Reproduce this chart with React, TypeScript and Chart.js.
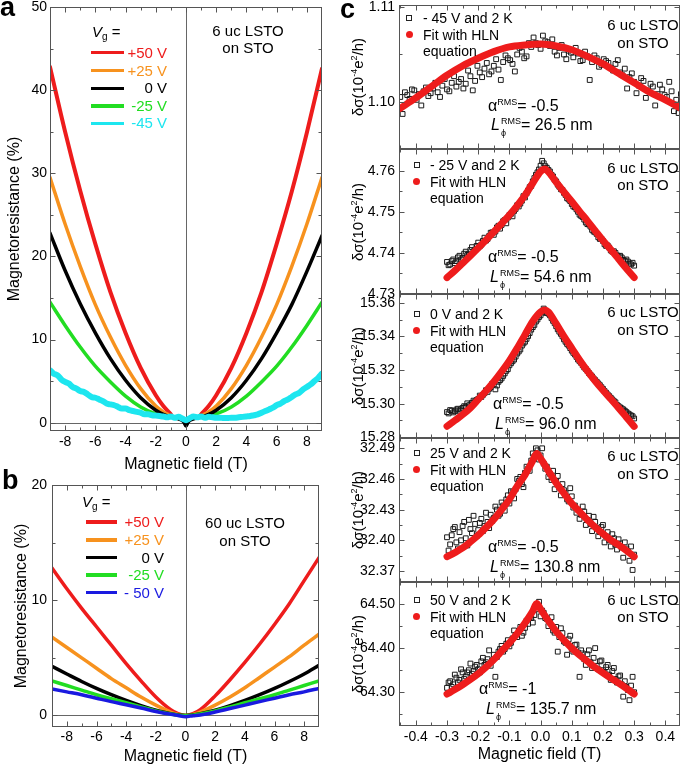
import React, { useEffect, useRef } from "react";
import { Chart, registerables } from "chart.js";

Chart.register(...registerables);

const FONT = '"Liberation Sans", Arial, Helvetica, sans-serif';

// ---------------- Panel a (6 uc LSTO on STO) ----------------
const aLabels = ["+50 V", "+25 V", "0 V", "-25 V", "-45 V"];
const aColors = ["#ee1c1c", "#f7921e", "#000000", "#22dd22", "#1de6ef"];
const aX50 = [-9, -8, -7, -6, -5, -4, -3, -2, -1.5, -1, 0, 1, 1.5, 2, 3, 4, 5, 6, 7, 8, 9];
const aY50 = [42.8, 35.0, 27.9, 21.5, 15.7, 10.8, 6.6, 3.3, 2.0, 1.0, null, 1.0, 2.0, 3.3, 6.6, 10.8, 15.7, 21.5, 27.8, 34.9, 42.6];
const aX25 = [-9, -8, -7, -6, -5, -4, -3, -2, -1.5, -1.2, 0, 1.2, 1.5, 2, 3, 4, 5, 6, 7, 8, 9];
const aY25 = [29.5, 23.9, 18.8, 14.2, 10.3, 6.9, 4.1, 2.0, 1.3, 1.0, null, 1.0, 1.3, 2.0, 4.1, 6.9, 10.3, 14.2, 18.8, 23.9, 29.5];
const aX0 = [-9, -8, -7, -6, -5, -4, -3, -2, -1.5, -1, -0.5, -0.15, 0, 0.15, 0.5, 1, 1.5, 2, 3, 4, 5, 6, 7, 8, 9];
const aY0 = [22.8, 18.3, 14.3, 10.8, 7.7, 5.1, 3.0, 1.5, 1.0, 0.7, 0.45, 0.1, -0.4, 0.1, 0.45, 0.7, 1.0, 1.5, 3.0, 5.1, 7.7, 10.8, 14.2, 18.2, 22.5];
const aXm25 = [-9, -8, -7, -6, -5, -4, -3, -2, -1.5, 0, 1.5, 2, 3, 4, 5, 6, 7, 8, 9];
const aYm25 = [14.5, 11.7, 9.1, 6.8, 4.9, 3.2, 1.9, 1.05, 0.8, null, 0.8, 1.05, 1.9, 3.2, 4.9, 6.8, 9.1, 11.7, 14.5];
const aXm45 = [
  -9, -8.75, -8.5, -8.25, -8, -7.75, -7.5, -7.25, -7, -6.75, -6.5, -6.25, -6, -5.75, -5.5, -5.25, -5, -4.75, -4.5,
  -4.25, -4, -3.75, -3.5, -3.25, -3, -2.75, -2.5, -2.25, -2, -1.75, -1.5, -1.25, -1, -0.75, -0.5, -0.25, 0,
  0.25, 0.5, 0.75, 1, 1.25, 1.5, 1.75, 2, 2.25, 2.5, 2.75, 3, 3.25, 3.5, 3.75, 4, 4.25, 4.5, 4.75, 5, 5.25,
  5.5, 5.75, 6, 6.25, 6.5, 6.75, 7, 7.25, 7.5, 7.75, 8, 8.25, 8.5, 8.75, 9,
];
const aYm45 = [
  6.3, 5.9, 5.7, 5.2, 4.9, 4.7, 4.3, 4.1, 3.8, 3.7, 3.4, 3.1, 3.0, 2.8, 2.6, 2.3, 2.2, 2.1, 1.9,
  1.7, 1.7, 1.5, 1.4, 1.3, 1.2, 1.0, 1.0, 0.9, 0.85, 0.8, 0.75, 0.65, 0.75, 0.6, 0.7, 0.5, 0.3,
  0.55, 0.75, 0.65, 0.75, 0.6, 0.7, 0.65, 0.6, 0.6, 0.55, 0.55, 0.6, 0.6, 0.65, 0.7, 0.75, 0.8, 0.9, 1.0, 1.2, 1.4,
  1.6, 1.8, 2.1, 2.3, 2.6, 2.8, 3.1, 3.4, 3.6, 4.0, 4.3, 4.6, 5.0, 5.4, 5.9,
];
const abXTicks = [-8, -6, -4, -2, 0, 2, 4, 6, 8];
const abXMinor = [-9, -7, -5, -3, -1, 1, 3, 5, 7, 9];
const aYTicks = [0, 10, 20, 30, 40, 50];
const aYMinor = [5, 15, 25, 35, 45];

// ---------------- Panel b (60 uc LSTO on STO) ----------------
const bLabels = ["+50 V", "+25 V", "0 V", "-25 V", "- 50 V"];
const bColors = ["#ee1c1c", "#f7921e", "#000000", "#22dd22", "#1a1ae0"];
const bX = [-9, -8, -7, -6, -5, -4, -3, -2, -1, -0.5, 0, 0.5, 1, 2, 3, 4, 5, 6, 7, 8, 9];
const bY50 = [12.8, 11.0, 9.3, 7.7, 6.1, 4.5, 3.0, 1.6, 0.5, 0.15, 0, 0.15, 0.5, 1.7, 3.1, 4.6, 6.2, 7.9, 9.7, 11.7, 13.7];
const bY25 = [6.8, 5.9, 5.0, 4.1, 3.2, 2.4, 1.6, 0.9, 0.3, 0.08, 0, 0.08, 0.3, 0.9, 1.6, 2.4, 3.3, 4.2, 5.1, 6.1, 7.05];
const bY0 = [4.26, 3.6, 2.95, 2.35, 1.8, 1.3, 0.85, 0.45, 0.15, 0.04, 0, 0.04, 0.15, 0.45, 0.85, 1.3, 1.8, 2.35, 2.95, 3.6, 4.35];
const bYm25 = [3.0, 2.6, 2.2, 1.8, 1.45, 1.1, 0.75, 0.4, 0.12, 0.03, 0, 0.03, 0.12, 0.4, 0.75, 1.1, 1.45, 1.8, 2.2, 2.6, 3.0];
const bYm50 = [2.3, 2.05, 1.8, 1.5, 1.2, 0.93, 0.65, 0.35, 0.1, 0, -0.1, -0.02, 0.05, 0.3, 0.6, 0.9, 1.2, 1.5, 1.8, 2.05, 2.35];
const bYTicks = [0, 10, 20];
const bYMinor = [5, 15];

// ---------------- Panel c (HLN fits) ----------------
const cConditions = ["- 45 V and 2 K", "- 25 V and 2 K", "0 V and 2 K", "25 V and 2 K", "50 V and 2 K"];
const cAlpha = ["-0.5", "-0.5", "-0.5", "-0.5", "-1"];
const cLphi = ["26.5", "54.6", "96.0", "130.8", "135.7"];
const cXTicks = [-0.4, -0.3, -0.2, -0.1, 0, 0.1, 0.2, 0.3, 0.4];
const cXMinor = [-0.45, -0.35, -0.25, -0.15, -0.05, 0.05, 0.15, 0.25, 0.35, 0.45];

const c1YTicks = [1.1, 1.11];
const c1YMinor = [1.095, 1.105];
const c2YTicks = [4.73, 4.74, 4.75, 4.76];
const c2YMinor = [4.735, 4.745, 4.755];
const c3YTicks = [15.28, 15.3, 15.32, 15.34, 15.36];
const c3YMinor = [15.29, 15.31, 15.33, 15.35];
const c4YTicks = [32.37, 32.4, 32.43, 32.46, 32.49];
const c4YMinor = [32.385, 32.415, 32.445, 32.475];
const c5YTicks = [64.3, 64.4, 64.5];
const c5YMinor = [64.25, 64.35, 64.45];

const c1FitX = [-0.45, -0.4, -0.35, -0.3, -0.25, -0.2, -0.15, -0.1, -0.05, 0, 0.05, 0.1, 0.15, 0.2, 0.25, 0.3, 0.35, 0.4, 0.45];
const c1FitY = [1.0993, 1.1004, 1.1016, 1.1028, 1.1038, 1.1046, 1.1053, 1.1058, 1.106, 1.1061, 1.1059, 1.1055, 1.1048, 1.104, 1.103, 1.102, 1.101, 1.1002, 1.0993];
const fitXPeakRight = [-0.3, -0.275, -0.25, -0.225, -0.2, -0.175, -0.15, -0.125, -0.1, -0.075, -0.05, -0.025, 0, 0.0125, 0.025, 0.05, 0.075, 0.1, 0.125, 0.15, 0.175, 0.2, 0.225, 0.25, 0.275, 0.3];
const fitXPeakLeft = [-0.3, -0.275, -0.25, -0.225, -0.2, -0.175, -0.15, -0.125, -0.1, -0.075, -0.05, -0.025, -0.0125, 0, 0.025, 0.05, 0.075, 0.1, 0.125, 0.15, 0.175, 0.2, 0.225, 0.25, 0.275, 0.3];
const c2FitY = [4.734, 4.7357, 4.7375, 4.7393, 4.7412, 4.7431, 4.7451, 4.7471, 4.7492, 4.7515, 4.754, 4.757, 4.7598, 4.7604, 4.7597, 4.7572, 4.7548, 4.7525, 4.7501, 4.7478, 4.7454, 4.743, 4.7408, 4.7385, 4.7362, 4.734];
const c3FitY = [15.2866, 15.29, 15.2935, 15.2975, 15.3025, 15.3075, 15.313, 15.319, 15.3255, 15.333, 15.341, 15.349, 15.3545, 15.3557, 15.3545, 15.3475, 15.34, 15.333, 15.326, 15.3195, 15.3135, 15.308, 15.3028, 15.2975, 15.292, 15.2865];
const c4FitY = [32.384, 32.388, 32.3925, 32.3985, 32.405, 32.4125, 32.4205, 32.43, 32.44, 32.453, 32.464, 32.478, 32.485, 32.48, 32.468, 32.456, 32.446, 32.436, 32.428, 32.42, 32.413, 32.4065, 32.4005, 32.3955, 32.39, 32.384];
const c5FitY = [64.296, 64.306, 64.317, 64.329, 64.342, 64.357, 64.374, 64.393, 64.412, 64.433, 64.457, 64.484, 64.501, 64.488, 64.462, 64.438, 64.418, 64.4, 64.384, 64.37, 64.356, 64.344, 64.332, 64.321, 64.309, 64.296];

// measured data: two field sweeps, evenly spaced field points
const c1SweepA = [
  1.1005, 1.101, 1.1003, 1.1012, 1.1008, 1.1011, 1.1006, 1.1014, 1.101, 1.1017,
  1.1013, 1.102, 1.1016, 1.1024, 1.1019, 1.1027, 1.1022, 1.1031, 1.1035, 1.1029,
  1.1038, 1.1034, 1.1042, 1.1046, 1.104, 1.105, 1.1053, 1.1048, 1.1058, 1.1062,
  1.1056, 1.1064, 1.1059, 1.1053, 1.1057, 1.105, 1.1054, 1.1047, 1.1051, 1.1044,
  1.1048, 1.1042, 1.1046, 1.1039, 1.1043, 1.1036, 1.104, 1.1031, 1.1035, 1.1026,
  1.1021, 1.1017, 1.1022, 1.1012, 1.1016, 1.1008, 1.1013, 1.1005, 1.1011, 1.1002,
  1.1008,
];
const c1SweepB = [
  1.0987, 1.1007, 1.1013, 1.1002, 1.0996, 1.1015, 1.1009, 1.102, 1.1005, 1.1024,
  1.1011, 1.1027, 1.1021, 1.1014, 1.1033, 1.1012, 1.1038, 1.1026, 1.1041, 1.1032,
  1.1045, 1.1023, 1.1049, 1.1044, 1.1032, 1.1057, 1.1046, 1.1062, 1.1068, 1.106,
  1.107, 1.1063, 1.1066, 1.1049, 1.106, 1.1045, 1.1052, 1.1057, 1.1043, 1.1053,
  1.1023, 1.1049, 1.1037, 1.1045, 1.1041, 1.1033, 1.1044, 1.1028, 1.1014, 1.103,
  1.1009, 1.1025, 1.1004, 1.1019, 1.0996, 1.1018, 1.1007, 1.1021, 1.099, 1.0988,
];
const c2SweepA = [
  4.7378, 4.7372, 4.7384, 4.738, 4.7393, 4.7388, 4.7403, 4.7398, 4.7414, 4.7408,
  4.7425, 4.742, 4.7437, 4.7434, 4.7449, 4.7444, 4.7462, 4.7459, 4.7477, 4.7472,
  4.7492, 4.7489, 4.7507, 4.7513, 4.7527, 4.7535, 4.7552, 4.7563, 4.7582, 4.7596,
  4.7612, 4.7618, 4.7607, 4.7598, 4.7586, 4.7574, 4.7561, 4.7553, 4.7541, 4.753,
  4.7519, 4.7511, 4.75, 4.749, 4.7481, 4.747, 4.7464, 4.7452, 4.7446, 4.7434,
  4.7429, 4.7417, 4.7413, 4.7403, 4.74, 4.7392, 4.7389, 4.7381, 4.7379, 4.7372,
  4.7369,
];
const c2SweepB = [
  4.737, 4.738, 4.7375, 4.7389, 4.7384, 4.7398, 4.7395, 4.7407, 4.7404, 4.7417,
  4.7416, 4.7429, 4.743, 4.7441, 4.745, 4.7452, 4.7466, 4.7468, 4.748, 4.7486,
  4.7495, 4.7502, 4.7516, 4.752, 4.7538, 4.7545, 4.756, 4.7574, 4.759, 4.7603,
  4.7624, 4.7611, 4.7602, 4.759, 4.7578, 4.7566, 4.7555, 4.7546, 4.7533, 4.7526,
  4.7513, 4.7506, 4.7493, 4.7487, 4.7474, 4.7469, 4.7456, 4.745, 4.7438, 4.7434,
  4.7421, 4.7418, 4.7406, 4.7404, 4.7394, 4.7393, 4.7383, 4.7384, 4.7374, 4.7376,
];
const c3SweepA = [
  15.295, 15.2962, 15.2948, 15.2965, 15.2958, 15.2975, 15.2982, 15.299, 15.3005, 15.3012,
  15.3028, 15.304, 15.3062, 15.307, 15.3098, 15.3115, 15.3108, 15.314, 15.3165, 15.3195,
  15.3228, 15.3252, 15.328, 15.331, 15.3345, 15.3368, 15.3402, 15.344, 15.3468, 15.35,
  15.3525, 15.3565, 15.354, 15.3525, 15.3492, 15.346, 15.3428, 15.34, 15.3368, 15.3345,
  15.3315, 15.3292, 15.3262, 15.3242, 15.3215, 15.3195, 15.3172, 15.315, 15.313, 15.311,
  15.3088, 15.3065, 15.3045, 15.3025, 15.3008, 15.2985, 15.2972, 15.2958, 15.2942, 15.293,
  15.2912,
];
const c3SweepB = [
  15.2942, 15.2958, 15.2955, 15.297, 15.2966, 15.2985, 15.3002, 15.2995, 15.3018, 15.3022,
  15.3048, 15.3052, 15.308, 15.3088, 15.3118, 15.3085, 15.313, 15.315, 15.318, 15.3205,
  15.324, 15.3262, 15.3298, 15.3322, 15.3358, 15.3385, 15.342, 15.3455, 15.3488, 15.3515,
  15.3548, 15.354, 15.3535, 15.3508, 15.3478, 15.3442, 15.3415, 15.3382, 15.3355, 15.333,
  15.3302, 15.3278, 15.3252, 15.3228, 15.3206, 15.3182, 15.3162, 15.314, 15.312, 15.3098,
  15.3075, 15.3055, 15.3035, 15.3015, 15.2992, 15.2978, 15.2966, 15.295, 15.2936, 15.2925,
];
const c4SweepA = [
  32.403, 32.396, 32.411, 32.398, 32.408, 32.414, 32.402, 32.42, 32.407, 32.416,
  32.41, 32.421, 32.414, 32.418, 32.425, 32.422, 32.43, 32.426, 32.434, 32.44,
  32.436, 32.447, 32.45, 32.458, 32.455, 32.466, 32.47, 32.478, 32.482, 32.488,
  32.483, 32.475, 32.472, 32.465, 32.468, 32.458, 32.452, 32.455, 32.446, 32.438,
  32.443, 32.434, 32.43, 32.425, 32.428, 32.42, 32.416, 32.423, 32.412, 32.408,
  32.415, 32.404, 32.4, 32.406, 32.396, 32.401, 32.393, 32.398, 32.389, 32.394,
  32.386,
];
const c4SweepB = [
  32.39, 32.405, 32.413, 32.392, 32.4, 32.418, 32.395, 32.411, 32.424, 32.404,
  32.417, 32.409, 32.427, 32.412, 32.419, 32.433, 32.424, 32.437, 32.429, 32.444,
  32.448, 32.441, 32.46, 32.462, 32.452, 32.472, 32.468, 32.485, 32.49, 32.479,
  32.49, 32.47, 32.462, 32.459, 32.45, 32.463, 32.444, 32.449, 32.44, 32.451,
  32.432, 32.427, 32.421, 32.433, 32.415, 32.424, 32.409, 32.418, 32.404, 32.413,
  32.398, 32.408, 32.394, 32.402, 32.391, 32.397, 32.383, 32.392, 32.38, 32.371,
];
const c5SweepA = [
  64.31, 64.325, 64.318, 64.333, 64.328, 64.345, 64.336, 64.35, 64.342, 64.358,
  64.352, 64.37, 64.362, 64.375, 64.36, 64.385, 64.38, 64.398, 64.392, 64.41,
  64.404, 64.422, 64.43, 64.438, 64.428, 64.446, 64.455, 64.468, 64.475, 64.488,
  64.472, 64.48, 64.466, 64.458, 64.44, 64.448, 64.425, 64.434, 64.412, 64.42,
  64.398, 64.407, 64.39, 64.395, 64.375, 64.386, 64.368, 64.378, 64.36, 64.37,
  64.35, 64.357, 64.34, 64.348, 64.33, 64.336, 64.318, 64.325, 64.305, 64.315,
  64.3,
];
const c5SweepB = [
  64.322, 64.312, 64.34, 64.322, 64.352, 64.33, 64.345, 64.365, 64.348, 64.362,
  64.345, 64.378, 64.368, 64.395, 64.372, 64.335, 64.392, 64.405, 64.398, 64.418,
  64.412, 64.44, 64.425, 64.448, 64.435, 64.462, 64.47, 64.458, 64.495, 64.505,
  64.485, 64.468, 64.45, 64.47, 64.435, 64.392, 64.445, 64.415, 64.385, 64.428,
  64.392, 64.408, 64.335, 64.388, 64.362, 64.395, 64.355, 64.4, 64.352, 64.372,
  64.345, 64.362, 64.328, 64.355, 64.322, 64.338, 64.29, 64.312, 64.282, 64.335,
];

// field grids of the two sweeps
function grid(start: number, step: number, n: number): number[] {
  const out: number[] = [];
  for (let i = 0; i < n; i++) out.push(Math.round((start + i * step) * 100000) / 100000);
  return out;
}
const wideA = grid(-0.45, 0.015, 61);
const wideB = grid(-0.4425, 0.015, 60);
const narrowA = grid(-0.3, 0.01, 61);
const narrowB = grid(-0.295, 0.01, 60);

// ---------------- helpers ----------------
const RED = "#ee1c1c";

function pts(xs: number[], ys: (number | null)[]) {
  return xs.map((x, i) => ({ x, y: ys[i] }));
}

function lineDs(xs: number[], ys: (number | null)[], color: string, width: number) {
  return {
    data: pts(xs, ys),
    borderColor: color,
    backgroundColor: color,
    borderWidth: width,
    pointRadius: 0,
    fill: false,
    cubicInterpolationMode: "monotone",
    borderCapStyle: "round",
    borderJoinStyle: "round",
    spanGaps: false,
  };
}

function scatterDs(xs: number[], ys: number[]) {
  return {
    data: pts(xs, ys),
    showLine: false,
    pointStyle: "rect",
    pointRadius: 3.4,
    pointBorderWidth: 1,
    pointBorderColor: "#1a1a1a",
    pointBackgroundColor: "rgba(255,255,255,0)",
    borderColor: "#1a1a1a",
  };
}

const framePlugin = {
  id: "frame",
  beforeDatasetsDraw(chart: any, _args: any, o: any) {
    if (!o.zero) return;
    const { ctx, chartArea: a, scales } = chart;
    const px = Math.round(scales.x.getPixelForValue(0)) + 0.5;
    const py = Math.round(scales.y.getPixelForValue(0)) + 0.5;
    ctx.save();
    ctx.strokeStyle = "#666";
    ctx.lineWidth = 1;
    ctx.beginPath();
    ctx.moveTo(px, a.top);
    ctx.lineTo(px, a.bottom);
    ctx.moveTo(a.left, py);
    ctx.lineTo(a.right, py);
    ctx.stroke();
    ctx.restore();
  },
  afterDraw(chart: any, _args: any, o: any) {
    const { ctx, chartArea: a, scales } = chart;
    const L = Math.round(a.left) + 0.5;
    const R = Math.round(a.right) - 0.5;
    const T = Math.round(a.top) + 0.5;
    const B = Math.round(a.bottom) - 0.5;
    ctx.save();
    ctx.strokeStyle = "#555";
    ctx.lineWidth = 1;
    ctx.strokeRect(L, T, R - L, B - T);
    ctx.beginPath();
    const tx = (vals: number[], len: number) =>
      vals.forEach((v) => {
        const p = Math.round(scales.x.getPixelForValue(v)) + 0.5;
        if (p < L - 0.5 || p > R + 0.5) return;
        ctx.moveTo(p, B);
        ctx.lineTo(p, B - len);
        ctx.moveTo(p, T);
        ctx.lineTo(p, T + len);
      });
    const ty = (vals: number[], len: number) =>
      vals.forEach((v) => {
        const p = Math.round(scales.y.getPixelForValue(v)) + 0.5;
        if (p < T - 0.5 || p > B + 0.5) return;
        ctx.moveTo(L, p);
        ctx.lineTo(L + len, p);
        ctx.moveTo(R, p);
        ctx.lineTo(R - len, p);
      });
    tx(o.xMajor, 5);
    tx(o.xMinor, 3);
    ty(o.yMajor, 5);
    ty(o.yMinor, 3);
    ctx.stroke();
    ctx.restore();
  },
};

type AxisSpec = {
  min: number;
  max: number;
  major: number[];
  minor: number[];
  fmt: (v: number) => string;
  labelPad: number;
  title?: string;
  titlePad?: number;
};

type PanelSpec = {
  left: number;
  top: number;
  w: number;
  h: number;
  pad: { left: number; top: number; right: number; bottom: number };
  yW: number;
  xH: number;
  showX: boolean;
  x: AxisSpec;
  y: AxisSpec;
  zero: boolean;
  datasets: any[];
};

function buildConfig(p: PanelSpec) {
  const tickFont = { family: FONT, size: 14 };
  const titleFont = { family: FONT, size: 16 };
  const resetPad = (s: any) => {
    s.paddingLeft = 0;
    s.paddingRight = 0;
    s.paddingTop = 0;
    s.paddingBottom = 0;
  };
  return {
    type: "line",
    data: { datasets: p.datasets },
    options: {
      animation: false,
      responsive: false,
      maintainAspectRatio: false,
      devicePixelRatio: 1,
      events: [],
      layout: { padding: p.pad },
      plugins: {
        legend: { display: false },
        tooltip: { enabled: false },
        frame: { xMajor: p.x.major, xMinor: p.x.minor, yMajor: p.y.major, yMinor: p.y.minor, zero: p.zero },
      },
      scales: {
        x: {
          type: "linear",
          position: "bottom",
          min: p.x.min,
          max: p.x.max,
          display: p.showX,
          afterBuildTicks: (s: any) => {
            s.ticks = p.x.major.map((v) => ({ value: v }));
          },
          afterFit: (s: any) => {
            if (p.showX) s.height = p.xH;
            resetPad(s);
          },
          grid: { display: false, drawTicks: false },
          border: { display: false },
          ticks: {
            font: tickFont,
            color: "#000",
            padding: p.x.labelPad,
            maxRotation: 0,
            minRotation: 0,
            autoSkip: false,
            callback: (v: any) => p.x.fmt(Number(v)),
          },
          title: {
            display: !!p.x.title,
            text: p.x.title || "",
            font: titleFont,
            color: "#000",
            padding: { top: 0, bottom: p.x.titlePad || 0 },
          },
        },
        y: {
          type: "linear",
          position: "left",
          min: p.y.min,
          max: p.y.max,
          afterBuildTicks: (s: any) => {
            s.ticks = p.y.major.map((v) => ({ value: v }));
          },
          afterFit: (s: any) => {
            s.width = p.yW;
            resetPad(s);
          },
          grid: { display: false, drawTicks: false },
          border: { display: false },
          ticks: {
            font: tickFont,
            color: "#000",
            padding: p.y.labelPad,
            autoSkip: false,
            callback: (v: any) => p.y.fmt(Number(v)),
          },
          title: {
            display: !!p.y.title,
            text: p.y.title || "",
            font: titleFont,
            color: "#000",
            padding: { top: p.y.titlePad || 0, bottom: 0 },
          },
        },
      },
    },
    plugins: [framePlugin],
  };
}

const intFmt = (v: number) => String(v);
const f1 = (v: number) => v.toFixed(1);
const f2 = (v: number) => v.toFixed(2);

// subplot frames of panel c (page coordinates)
const cTop = [5, 149, 294, 438, 582];
const cBot = [149, 294, 438, 582, 726];
const cRanges = [
  [1.09499, 1.11024],
  [4.73, 4.76528],
  [15.2796, 15.36517],
  [32.35924, 32.50007],
  [64.22355, 64.54983],
];
const cYMajor = [c1YTicks, c2YTicks, c3YTicks, c4YTicks, c5YTicks];
const cYMinor = [c1YMinor, c2YMinor, c3YMinor, c4YMinor, c5YMinor];
// fit first (drawn on top), then the two measured sweeps
const cData = [
  [lineDs(c1FitX, c1FitY, RED, 7), scatterDs(wideA, c1SweepA), scatterDs(wideB, c1SweepB)],
  [lineDs(fitXPeakRight, c2FitY, RED, 7), scatterDs(narrowA, c2SweepA), scatterDs(narrowB, c2SweepB)],
  [lineDs(fitXPeakRight, c3FitY, RED, 7), scatterDs(narrowA, c3SweepA), scatterDs(narrowB, c3SweepB)],
  [lineDs(fitXPeakLeft, c4FitY, RED, 7), scatterDs(narrowA, c4SweepA), scatterDs(narrowB, c4SweepB)],
  [lineDs(fitXPeakLeft, c5FitY, RED, 7), scatterDs(narrowA, c5SweepA), scatterDs(narrowB, c5SweepB)],
];

const PANELS: PanelSpec[] = [
  {
    left: 0,
    top: 0,
    w: 335,
    h: 480,
    pad: { left: 0, top: 7, right: 13, bottom: 0 },
    yW: 50,
    xH: 49,
    showX: true,
    x: { min: -9, max: 9, major: abXTicks, minor: abXMinor, fmt: intFmt, labelPad: 3, title: "Magnetic field (T)", titlePad: 5.4 },
    y: { min: -1, max: 50, major: aYTicks, minor: aYMinor, fmt: intFmt, labelPad: 3, title: "Magnetoresistance (%)", titlePad: 4.9 },
    zero: true,
    datasets: [
      lineDs(aXm45, aYm45, aColors[4], 6),
      lineDs(aX0, aY0, aColors[2], 3.5),
      lineDs(aX25, aY25, aColors[1], 3.5),
      lineDs(aX50, aY50, aColors[0], 4),
      lineDs(aXm25, aYm25, aColors[3], 3.5),
    ],
  },
  {
    left: 0,
    top: 470,
    w: 335,
    h: 298,
    pad: { left: 0, top: 15, right: 16, bottom: 0 },
    yW: 52,
    xH: 41,
    showX: true,
    x: { min: -9, max: 9, major: abXTicks, minor: abXMinor, fmt: intFmt, labelPad: 1.5, title: "Magnetic field (T)", titlePad: 1.4 },
    y: { min: -1, max: 20, major: bYTicks, minor: bYMinor, fmt: intFmt, labelPad: 5, title: "Magnetoresistance (%)", titlePad: 12 },
    zero: true,
    datasets: [
      lineDs(bX, bYm50, bColors[4], 3.5),
      lineDs(bX, bYm25, bColors[3], 3.5),
      lineDs(bX, bY0, bColors[2], 3.5),
      lineDs(bX, bY25, bColors[1], 3.5),
      lineDs(bX, bY50, bColors[0], 3.5),
    ],
  },
  ...cTop.map((T, i) => {
    const last = i === 4;
    const canvasTop = i === 0 ? 0 : T - 10;
    const h = last ? 768 - canvasTop : cBot[i] + 10 - canvasTop;
    return {
      left: 340,
      top: canvasTop,
      w: 345,
      h,
      pad: { left: 0, top: T - canvasTop, right: 1, bottom: last ? 0 : 10 },
      yW: 59,
      xH: last ? 768 - cBot[i] : 0,
      showX: last,
      x: { min: -0.454, max: 0.447, major: cXTicks, minor: cXMinor, fmt: f1, labelPad: 2.3, title: last ? "Magnetic field (T)" : undefined, titlePad: 3.4 },
      y: { min: cRanges[i][0], max: cRanges[i][1], major: cYMajor[i], minor: cYMinor[i], fmt: f2, labelPad: 4 },
      zero: false,
      datasets: cData[i],
    } as PanelSpec;
  }),
];

// ---------------- overlay text ----------------
function Txt(props: any) {
  const { x, y, a = "l", s = 14, c = "#000", w, it, children, style } = props;
  const tx = a === "l" ? "0" : a === "c" ? "-50%" : "-100%";
  return (
    <div
      style={{
        position: "absolute",
        left: x,
        top: y,
        transform: `translate(${tx},-50%)`,
        fontSize: s,
        color: c,
        fontWeight: w || "normal",
        fontStyle: it ? "italic" : "normal",
        whiteSpace: "nowrap",
        lineHeight: 1.15,
        ...style,
      }}
    >
      {children}
    </div>
  );
}

function LegendLine({ x1, x2, y, color }: any) {
  return <div style={{ position: "absolute", left: x1, top: y - 1.75, width: x2 - x1, height: 3.5, background: color }} />;
}

const subStyle = { fontSize: 10, verticalAlign: "-3px", lineHeight: 0 } as any;
const supSmall = { fontSize: 9, verticalAlign: "6px", lineHeight: 0 } as any;

const cLegX = [409, 416.5, 416.5, 416.5, 416.5];
const cLegText = [423, 430, 430, 430, 430];
const cLegY = [13.3, 16, 20, 15.3, 18];
const cUcY = [20, 18.5, 18, 18, 17.5];
const cAlphaPos = [
  [488, 101],
  [488, 108],
  [493, 110],
  [488, 109],
  [479, 107],
];
const cLPos = [
  [491, 120],
  [490, 128],
  [495, 130],
  [490, 129],
  [486, 127],
];

export default function App() {
  const refs = useRef<(HTMLCanvasElement | null)[]>([]);
  useEffect(() => {
    const charts = PANELS.map((p, i) => new Chart(refs.current[i] as HTMLCanvasElement, buildConfig(p) as any));
    return () => charts.forEach((c) => c.destroy());
  }, []);

  const aLegY = [52.7, 70.7, 88.3, 106, 123.3];
  const bLegY = [522, 540, 557.7, 575, 592.7];

  return (
    <div
      style={{
        position: "absolute",
        left: 0,
        top: 0,
        width: 685,
        height: 768,
        overflow: "hidden",
        background: "#fff",
        fontFamily: FONT,
        color: "#000",
      }}
    >
      {PANELS.map((p, i) => (
        <canvas
          key={i}
          ref={(el) => {
            refs.current[i] = el;
          }}
          width={p.w}
          height={p.h}
          style={{ position: "absolute", left: p.left, top: p.top, width: p.w, height: p.h }}
        />
      ))}

      {/* panel letters */}
      <Txt x={0} y={8} s={27} w="bold">a</Txt>
      <Txt x={2} y={481} s={27} w="bold">b</Txt>
      <Txt x={340} y={10} s={27} w="bold">c</Txt>

      {/* panel a legend */}
      <Txt x={92} y={32} s={15}>
        <i>V</i>
        <span style={subStyle}>g</span> =
      </Txt>
      {aLabels.map((l, i) => (
        <React.Fragment key={"a" + i}>
          <LegendLine x1={91} x2={124} y={aLegY[i]} color={aColors[i]} />
          <Txt x={167} y={aLegY[i]} a="r" s={15} c={aColors[i]}>{l}</Txt>
        </React.Fragment>
      ))}
      <Txt x={248} y={30.7} a="c" s={15}>6 uc LSTO</Txt>
      <Txt x={248} y={48.3} a="c" s={15}>on STO</Txt>

      {/* panel b legend */}
      <Txt x={82} y={502} s={15}>
        <i>V</i>
        <span style={subStyle}>g</span> =
      </Txt>
      {bLabels.map((l, i) => (
        <React.Fragment key={"b" + i}>
          <LegendLine x1={86} x2={117} y={bLegY[i]} color={bColors[i]} />
          <Txt x={164} y={bLegY[i]} a="r" s={15} c={bColors[i]}>{l}</Txt>
        </React.Fragment>
      ))}
      <Txt x={245} y={523} a="c" s={15}>60 uc LSTO</Txt>
      <Txt x={245} y={541} a="c" s={15}>on STO</Txt>

      {/* panel c annotations */}
      {cTop.map((T, i) => (
        <React.Fragment key={"c" + i}>
          <div
            style={{
              position: "absolute",
              left: 358,
              top: (T + cBot[i]) / 2,
              transform: "translate(-50%,-50%) rotate(-90deg)",
              fontSize: 15,
              whiteSpace: "nowrap",
              lineHeight: 1.15,
            }}
          >
            δσ(10<span style={supSmall}>-4</span>e<span style={supSmall}>2</span>/h)
          </div>
          <div
            style={{
              position: "absolute",
              left: cLegX[i] - 3,
              top: T + cLegY[i] - 3,
              width: 4,
              height: 4,
              border: "1px solid #222",
            }}
          />
          <Txt x={cLegText[i]} y={T + cLegY[i]} s={14}>{cConditions[i]}</Txt>
          <div
            style={{
              position: "absolute",
              left: cLegX[i] - 3.5,
              top: T + cLegY[i] + 16.5 - 3.5,
              width: 7,
              height: 7,
              borderRadius: "50%",
              background: RED,
            }}
          />
          <Txt x={cLegText[i]} y={T + cLegY[i] + 16.5} s={14}>Fit with HLN</Txt>
          <Txt x={cLegText[i]} y={T + cLegY[i] + 32.5} s={14}>equation</Txt>
          <Txt x={643} y={T + cUcY[i]} a="c" s={15}>6 uc LSTO</Txt>
          <Txt x={643} y={T + cUcY[i] + 17.5} a="c" s={15}>on STO</Txt>
          <Txt x={cAlphaPos[i][0]} y={T + cAlphaPos[i][1]} s={16}>
            α<span style={supSmall}>RMS</span>= {cAlpha[i]}
          </Txt>
          <Txt x={cLPos[i][0]} y={T + cLPos[i][1]} s={16}>
            <i>L</i>
            <span style={{ display: "inline-block", position: "relative", width: 21, height: 10 }}>
              <span style={{ position: "absolute", left: 1, top: -4, fontSize: 9, lineHeight: "10px" }}>RMS</span>
              <span style={{ position: "absolute", left: 1, top: 8, fontSize: 9, lineHeight: "10px" }}>ϕ</span>
            </span>
            = {cLphi[i]} nm
          </Txt>
        </React.Fragment>
      ))}
    </div>
  );
}
